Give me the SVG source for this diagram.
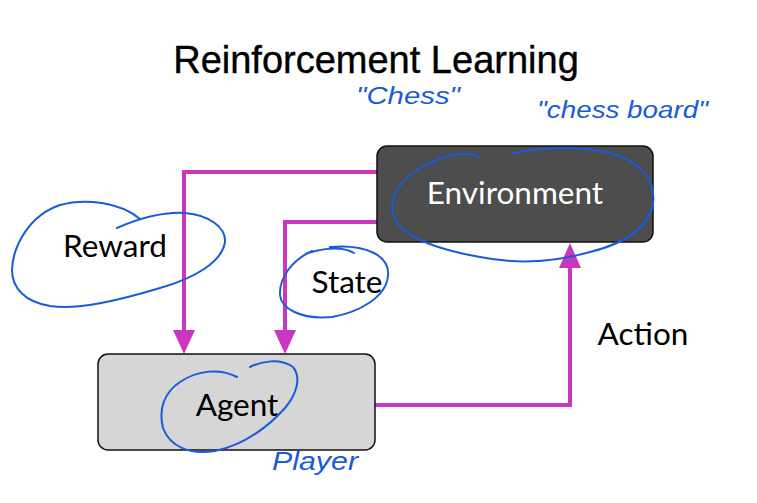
<svg xmlns="http://www.w3.org/2000/svg" width="757" height="503" viewBox="0 0 757 503">
<defs>
<style>
.title{font-family:"Liberation Sans",Arial,sans-serif;font-size:38px;fill:#000;stroke:#000;stroke-width:0.4}
.lbl{font-family:Lato,"Liberation Sans",sans-serif;font-size:31.5px;fill:#000}
.hand{font-family:"Liberation Sans",sans-serif;font-style:italic;fill:#1a5bd6}
.loop{fill:none;stroke:#1a5bd6;stroke-width:2;stroke-linecap:round;stroke-linejoin:round}
.conn{fill:none;stroke:#c936c0;stroke-width:4}
.head{fill:#c936c0}
</style>
</defs>
<rect width="757" height="503" fill="#fff"/>
<text class="title" x="376" y="73" text-anchor="middle">Reinforcement Learning</text>

<g id="connectors">
<path class="conn" d="M377,172 H184 V332"/>
<path class="head" d="M173,330 L195,330 L184,354 Z"/>
<path class="conn" d="M377,222 H285 V332"/>
<path class="head" d="M274,330 L296,330 L285,354 Z"/>
<path class="conn" d="M375,405 H570 V266"/>
<path class="head" d="M559,268 L581,268 L570,243 Z"/>
</g>

<g id="environment">
<rect x="377" y="146" width="276" height="96" rx="10" fill="#4d4d4d" stroke="#111" stroke-width="1.5"/>
<text class="lbl" x="515" y="204" text-anchor="middle" style="fill:#fff">Environment</text>
</g>

<g id="agent">
<rect x="98" y="354" width="277" height="96" rx="10" fill="#d6d6d6" stroke="#111" stroke-width="1.5"/>
<text class="lbl" x="237" y="416" text-anchor="middle">Agent</text>
</g>

<g id="reward">
<text class="lbl" x="115" y="257" text-anchor="middle">Reward</text>
</g>
<g id="state">
<text class="lbl" x="347" y="293" text-anchor="middle">State</text>
</g>
<g id="action">
<text class="lbl" x="643" y="345" text-anchor="middle">Action</text>
</g>

<g id="annotations">
<path class="loop" d="M117,228 C140,218 165,212 185,213 C210,215 226,228 225,242 C222,262 195,278 160,288 C120,300 80,310 50,306 C25,302 12,288 12,270 C13,245 30,215 60,205 C85,198 120,202 140,219"/>
<path class="loop" d="M308,253 C325,248 342,246 354,253 M330,247 C365,244 390,255 388,276 C386,297 360,312 332,317 C300,320 281,308 280,295 C279,278 292,260 312,251"/>
<path class="loop" d="M513,153 C540,148 575,146 605,152 C640,160 656,180 653,203 C650,225 630,242 590,252 C555,262 520,265 480,257 C440,250 400,237 393,215 C388,193 405,173 437,160 C455,153 470,152 480,157"/>
<path class="loop" d="M250,367 C262,361 280,358 293,367 C302,378 296,395 285,408 C270,425 245,445 215,451 C190,455 170,447 163,428 C158,408 165,392 180,382 C198,370 220,368 237,377"/>
<text class="hand" x="356" y="104" font-size="23" textLength="104" lengthAdjust="spacingAndGlyphs">"Chess"</text>
<text class="hand" x="537" y="118" font-size="23" textLength="171" lengthAdjust="spacingAndGlyphs">"chess board"</text>
<text class="hand" x="272" y="470" font-size="26" textLength="86" lengthAdjust="spacingAndGlyphs">Player</text>
</g>
</svg>
